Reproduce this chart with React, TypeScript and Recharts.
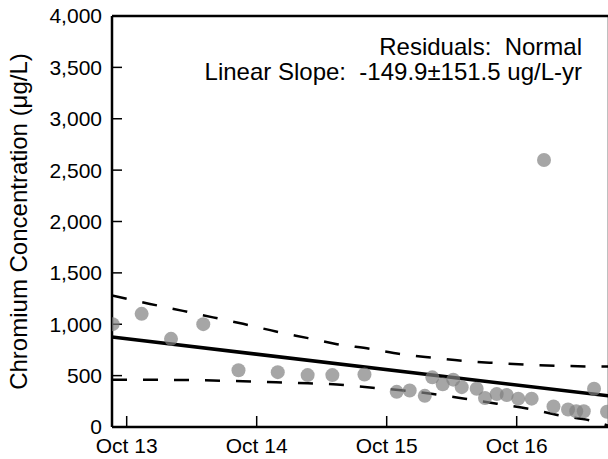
import React from 'react';
import { ComposedChart, Scatter, Line, XAxis, YAxis, Customized } from 'recharts';

const FONT = '"Liberation Sans", Arial, Helvetica, sans-serif';

// Axis ticks
const xTickValues = [2013.75, 2014.75, 2015.75, 2016.75];
const xTickLabels = ['Oct 13', 'Oct 14', 'Oct 15', 'Oct 16'];
const yTickValues = [0, 500, 1000, 1500, 2000, 2500, 3000, 3500, 4000];
const xDomain = [2013.637, 2017.46];
const yDomain = [0, 4000];

// Observations (decimal year, µg/L)
const sampleDates = [
  2013.642, 2013.865, 2014.091, 2014.339, 2014.61, 2014.912, 2015.142, 2015.332,
  2015.579, 2015.827, 2015.927, 2016.043, 2016.101, 2016.181, 2016.262, 2016.327,
  2016.442, 2016.506, 2016.596, 2016.673, 2016.762, 2016.865, 2016.96, 2017.033,
  2017.145, 2017.208, 2017.266, 2017.345, 2017.445,
];
const chromium = [
  1001, 1101, 858, 1001, 552, 534, 505, 505,
  511, 342, 355, 303, 483, 415, 461, 388,
  372, 282, 320, 311, 276, 276, 2599, 199,
  171, 153, 153, 372, 148,
];

// Linear trend
const trendDates = [2013.637, 2017.46];
const trendValues = [875, 303];

// Confidence band
const bandDates = [
  2013.637, 2013.929, 2014.183, 2014.414, 2014.645, 2014.898, 2015.145, 2015.368,
  2015.621, 2015.86, 2016.106, 2016.352, 2016.598, 2016.852, 2017.083, 2017.329, 2017.46,
];
const upperBand = [
  1280, 1198, 1130, 1067, 1004, 929, 865, 806,
  761, 709, 673, 641, 622, 605, 595, 589, 588,
];
const lowerBand = [
  459, 459, 458, 452, 445, 436, 425, 413,
  384, 357, 321, 275, 227, 175, 112, 60, 10,
];

const points = sampleDates.map((t, i) => ({ t, v: chromium[i] }));
const trend = trendDates.map((t, i) => ({ t, v: trendValues[i] }));
const upper = bandDates.map((t, i) => ({ t, v: upperBand[i] }));
const lower = bandDates.map((t, i) => ({ t, v: lowerBand[i] }));

const fmtX = (v: number) => {
  const i = xTickValues.findIndex((x) => Math.abs(x - v) < 1e-6);
  return i >= 0 ? xTickLabels[i] : '';
};
const fmtY = (v: number) => v.toLocaleString('en-US');

const Dot = (props: any) => (
  <circle cx={props.cx} cy={props.cy} r={7} fill="#808080" fillOpacity={0.7} stroke="none" />
);

const Annotations = () => (
  <g fontFamily={FONT} fill="#000">
    <text x={582} y={55} fontSize={24} textAnchor="end">Residuals:{'\u00a0\u00a0'}Normal</text>
    <text x={582} y={80} fontSize={24} textAnchor="end">
      Linear Slope:{'\u00a0\u00a0'}-149.9±151.5 ug/L-yr
    </text>
    <text transform="translate(27, 221.5) rotate(-90)" x={0} y={0} fontSize={24} textAnchor="middle">
      Chromium Concentration (μg/L)
    </text>
  </g>
);

const axisLine = { stroke: '#000', strokeWidth: 2.5 };
const tickLine = { stroke: '#000', strokeWidth: 1.5 };
const tickStyle = { fill: '#000', fontSize: 21, fontFamily: FONT };

export default function App() {
  return (
    <div style={{ position: 'absolute', left: 0, top: 0, width: 608, height: 459, overflow: 'hidden', background: '#fff' }}>
      <ComposedChart width={610} height={459} margin={{ top: 0, right: 0, bottom: 0, left: 0 }}>
        <XAxis
          xAxisId="b"
          type="number"
          dataKey="t"
          domain={xDomain}
          allowDataOverflow
          ticks={xTickValues}
          tickFormatter={fmtX}
          orientation="bottom"
          height={32}
          axisLine={axisLine}
          tickLine={tickLine}
          tickSize={-11}
          tickMargin={22}
          tick={tickStyle}
          interval={0}
        />
        <XAxis
          xAxisId="t"
          type="number"
          dataKey="t"
          domain={xDomain}
          allowDataOverflow
          ticks={xTickValues}
          orientation="top"
          height={16}
          axisLine={axisLine}
          tickLine={tickLine}
          tickSize={-11}
          tick={false}
          interval={0}
        />
        <YAxis
          yAxisId="l"
          type="number"
          dataKey="v"
          domain={yDomain}
          allowDataOverflow
          ticks={yTickValues}
          tickFormatter={fmtY}
          orientation="left"
          width={112}
          axisLine={axisLine}
          tickLine={tickLine}
          tickSize={-10}
          tickMargin={20}
          tick={tickStyle}
          interval={0}
        />
        <YAxis
          yAxisId="r"
          type="number"
          dataKey="v"
          domain={yDomain}
          allowDataOverflow
          ticks={yTickValues}
          orientation="right"
          width={1}
          axisLine={axisLine}
          tickLine={tickLine}
          tickSize={-10}
          tick={false}
          interval={0}
        />
        <Scatter
          xAxisId="b"
          yAxisId="l"
          data={points}
          dataKey="v"
          shape={<Dot />}
          isAnimationActive={false}
        />
        <Line
          xAxisId="b"
          yAxisId="l"
          data={upper}
          dataKey="v"
          type="monotone"
          stroke="#000"
          strokeWidth={2.5}
          strokeDasharray="15 16"
          dot={false}
          activeDot={false}
          isAnimationActive={false}
        />
        <Line
          xAxisId="b"
          yAxisId="l"
          data={lower}
          dataKey="v"
          type="monotone"
          stroke="#000"
          strokeWidth={2.5}
          strokeDasharray="15 16"
          dot={false}
          activeDot={false}
          isAnimationActive={false}
        />
        <Line
          xAxisId="b"
          yAxisId="l"
          data={trend}
          dataKey="v"
          type="linear"
          stroke="#000"
          strokeWidth={3.5}
          dot={false}
          activeDot={false}
          isAnimationActive={false}
        />
        <Customized component={<Annotations />} />
      </ComposedChart>
    </div>
  );
}
